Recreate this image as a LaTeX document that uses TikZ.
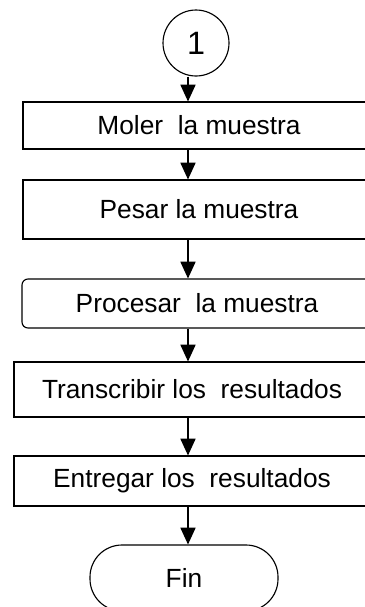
\documentclass[tikz,border=0pt]{standalone}
\usepackage{fontspec}
\setmainfont{Liberation Sans}
\usepackage{tikz}
\usetikzlibrary{arrows.meta,positioning,calc}

\begin{document}
\begin{tikzpicture}[font=\fontsize{18.7}{22}\selectfont,
			caja/.style={draw,line width=0.8pt,inner sep=0pt,minimum height=1.25cm},
			flecha/.style={line width=0.8pt,-{Triangle[length=0.42cm,width=0.38cm]}}]
\useasboundingbox (0,0) rectangle (9.125,-15.175);
\coordinate (eje) at (4.7,0);

\node (uno) at (4.9,-1.075)[circle,draw,line width=0.8pt,minimum size=1.65cm,inner sep=0pt,font=\fontsize{23}{26}\selectfont] {1};
\node (moler) at (4.975,-3.1375)[caja,minimum width=8.8cm,minimum height=1.175cm] {Moler\ \ la muestra};
\node (pesar) at (4.975,-5.2375)[caja,minimum width=8.8cm,minimum height=1.475cm] {Pesar la muestra};
\node (procesar) at (4.925,-7.5875)[caja,rounded corners=0.15cm,minimum width=8.75cm,minimum height=1.225cm] {Procesar\ \ la muestra};
\node (transcribir) at (4.8,-9.7375)[caja,minimum width=8.9cm,minimum height=1.375cm] {Transcribir los\ \ resultados};
\node (entregar) at (4.8,-12.025)[caja,minimum width=8.9cm] {Entregar los\ \ resultados};
\node (fin) at (4.6,-14.45)[caja,rounded corners=0.8cm,minimum width=4.7cm,minimum height=1.65cm] {Fin};

\draw[flecha] (uno.south -| eje) -- (moler.north -| eje);
\draw[flecha] (moler.south -| eje) -- (pesar.north -| eje);
\draw[flecha] (pesar.south -| eje) -- (procesar.north -| eje);
\draw[flecha] (procesar.south -| eje) -- (transcribir.north -| eje);
\draw[flecha] (transcribir.south -| eje) -- (entregar.north -| eje);
\draw[flecha] (entregar.south -| eje) -- (fin.north -| eje);
\end{tikzpicture}
\end{document}
